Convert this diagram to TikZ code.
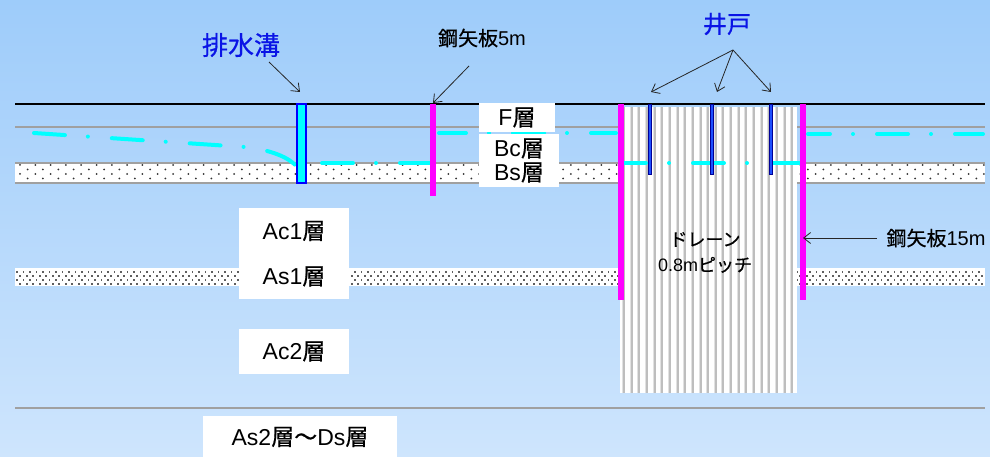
\documentclass[tikz,border=0pt]{standalone}
\usepackage{fontspec}
\setmainfont{Liberation Sans}
\newfontfamily\jp{Noto Sans CJK JP}[FakeBold=0.5]
\usetikzlibrary{arrows.meta}

\definecolor{skytop}{RGB}{158,204,250}
\definecolor{skybot}{RGB}{206,229,253}
\definecolor{mag}{RGB}{255,0,255}
\definecolor{aqua}{RGB}{0,255,255}
\definecolor{lblblue}{RGB}{10,20,230}
\definecolor{rulegray}{RGB}{160,160,160}
\definecolor{stripe}{RGB}{190,190,190}
\definecolor{stripelt}{RGB}{225,225,225}
\definecolor{dotdark}{RGB}{50,50,50}
\definecolor{dotmid}{RGB}{95,95,95}
\definecolor{wellblue}{RGB}{30,80,255}
\definecolor{wellnavy}{RGB}{0,0,150}

\begin{document}
\begin{tikzpicture}[x=1pt,y=-1pt,
  rulel/.style={draw=rulegray, line width=2pt},
  pile/.style={fill=mag},
  wt/.style={draw=aqua, line width=4pt, line cap=round,
             dash pattern=on 31pt off 23pt on 0pt off 24pt},
  arr/.style={-{Straight Barb[length=7pt,width=11pt]}, line width=0.8pt, draw=black!85},
  layerbox/.style={fill=white, inner sep=0pt, align=center},
  layertxt/.style={font=\fontsize{23}{24}\selectfont},
  callout/.style={inner sep=0pt, font=\fontsize{20}{20}\selectfont},
  bluelbl/.style={inner sep=0pt, text=lblblue}]

\useasboundingbox (0,0) rectangle (990,457);
\shade[top color=skytop, bottom color=skybot] (0,0) rectangle (990,457);

% boundary between F and Bc layers
\draw[rulel] (15,127) -- (985,127);

% Bs sand layer
\fill[white] (15,163) rectangle (985,183);
\foreach \k in {0,...,63} {
  \fill[dotdark] (20+15.3*\k,165) circle (1);
  \fill[dotdark] (27.65+15.3*\k,169.5) circle (1);
  \fill[dotdark] (20+15.3*\k,174) circle (1);
  \fill[dotdark] (27.65+15.3*\k,178.5) circle (1);
}
\draw[rulel] (15,163) -- (985,163);
\draw[rulel] (15,183) -- (985,183);

% As1 sand layer
\fill[white] (15,268) rectangle (985,286);
\foreach \k in {0,...,148} {
  \fill[dotmid] (16.2+6.5*\k,271.2) rectangle ++(1.6,1.6);
  \fill[dotmid] (19.45+6.5*\k,275.2) rectangle ++(1.6,1.6);
  \fill[dotmid] (16.2+6.5*\k,279.2) rectangle ++(1.6,1.6);
  \fill[dotmid] (19.45+6.5*\k,283.2) rectangle ++(1.6,1.6);
}

% top of As2 layer
\draw[rulel] (15,408) -- (985,408);

% vertical drains at 0.8 m pitch
\fill[white] (620,107) rectangle (797,393);
\foreach \k in {0,...,22} {
  \fill[stripelt] (622+7.65*\k,107) rectangle ++(1,286);
  \fill[stripe] (623+7.65*\k,107) rectangle ++(2,286);
}

% ground water table
\draw[wt] (34,133) -- (245,147) .. controls (272,150) and (290,158) .. (297,167);
\draw[wt] (322,163) -- (430,163);
\draw[wt, dash phase=4pt] (439,133) -- (616,133);
\draw[wt, dash phase=7pt] (622,163) -- (802,163);
\draw[wt, dash phase=9pt] (808,134) -- (983,134);

% ground surface
\draw[black, line width=1.8pt] (15,104) -- (985,104);

% sheet piles
\fill[pile] (430,104) rectangle (436,196);
\fill[pile] (618,104) rectangle (624,300);
\fill[pile] (800,104) rectangle (806,300);

% wells
\foreach \wx in {650,712,771} {
  \filldraw[fill=wellblue, draw=wellnavy, line width=0.7pt] (\wx-1.6,104) rectangle (\wx+1.6,174);
}

% drainage ditch
\filldraw[fill=aqua, draw=blue, line width=1.5pt] (297,104) rectangle (306,183);

% layer names
\node[layerbox, layertxt, minimum width=76pt, minimum height=29pt] (fbox) at (517,117.5) {F{\jp 層}};
\node[layerbox, layertxt, minimum width=80pt, minimum height=53pt] (bcbox) at (519,160.5) {Bc{\jp 層}\\Bs{\jp 層}};
\node[layerbox, minimum width=110pt, minimum height=91pt] (acbox) at (294,253.5) {};
\node[layertxt, inner sep=0pt] (ac1) at (294,231) {Ac1{\jp 層}};
\node[layertxt, inner sep=0pt] (as1) at (294,276.5) {As1{\jp 層}};
\node[layerbox, layertxt, minimum width=110pt, minimum height=45pt] (ac2) at (294,351.5) {Ac2{\jp 層}};
\node[layerbox, minimum width=194pt, minimum height=44pt] (as2box) at (300,438) {};
\node[layertxt, inner sep=0pt] (as2) at (300,437) {As2{\jp 層〜}Ds{\jp 層}};

% drain label
\node[inner sep=0pt, font=\fontsize{18}{25.5}\selectfont, align=center] (drainlbl) at (705,252.5) {{\jp ドレーン}\\0.8m{\jp ピッチ}};

% callouts
\node[bluelbl, font=\fontsize{26}{26}\selectfont\jp] (lblditch) at (241,45) {排水溝};
\node[bluelbl, font=\fontsize{24}{24}\selectfont\jp] (lblwell) at (727,24) {井戸};
\node[callout] (lblsp5) at (482,38) {{\jp 鋼矢板}5m};
\node[callout] (lblsp15) at (936,238) {{\jp 鋼矢板}15m};

\coordinate (ditchfrom) at (269,62);
\coordinate (ditchto) at (300,92);
\coordinate (sp5from) at (469,66);
\coordinate (sp5to) at (433,103);
\coordinate (wellfork) at (733,50);
\coordinate (wella) at (651,92);
\coordinate (wellb) at (717,92);
\coordinate (wellc) at (771,92);
\coordinate (sp15from) at (877,238);
\coordinate (sp15to) at (803,238);

\draw[arr] (ditchfrom) -- (ditchto);
\draw[arr] (sp5from) -- (sp5to);
\draw[arr] (wellfork) -- (wella);
\draw[arr] (wellfork) -- (wellb);
\draw[arr] (wellfork) -- (wellc);
\draw[arr] (sp15from) -- (sp15to);
\end{tikzpicture}
\end{document}
